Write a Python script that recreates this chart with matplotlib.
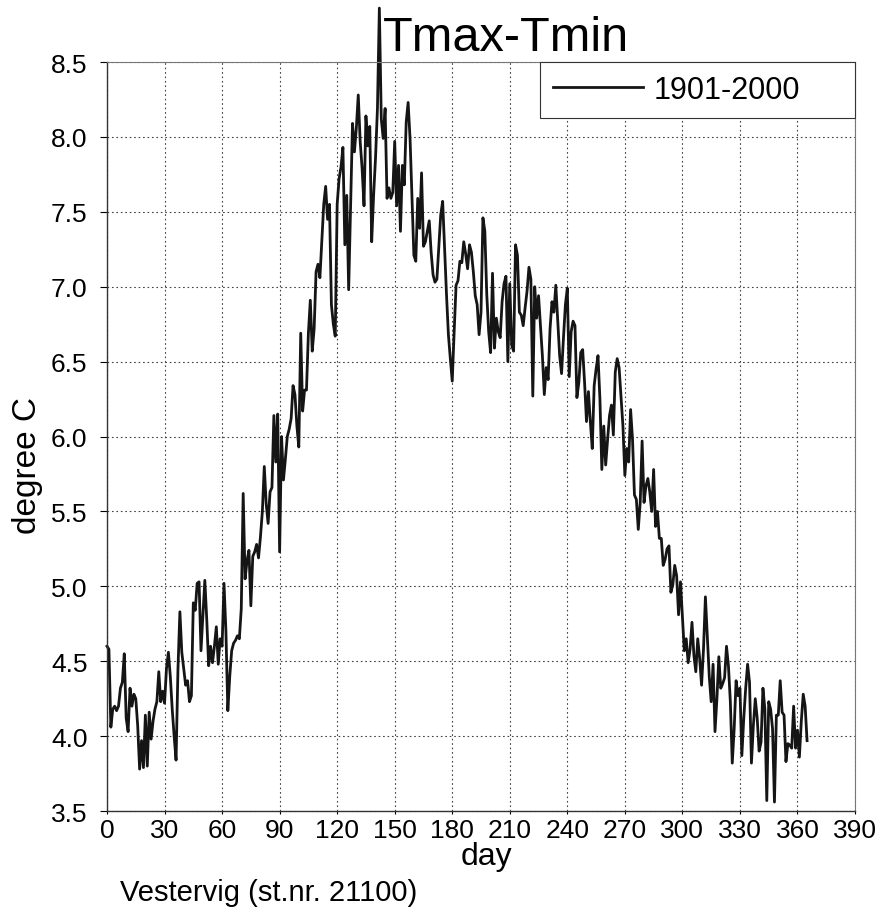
import numpy as np
import matplotlib.pyplot as plt

# daily mean of Tmax-Tmin, day 0..365
days = np.arange(366)
dtr = [
    4.60, 4.58, 4.06, 4.18, 4.20, 4.17, 4.20, 4.32, 4.36, 4.55,
    4.12, 4.03, 4.32, 4.20, 4.28, 4.25, 4.07, 3.78, 3.97, 3.79,
    4.14, 3.80, 4.16, 3.98, 4.10, 4.18, 4.23, 4.43, 4.23, 4.30,
    4.22, 4.45, 4.56, 4.40, 4.18, 4.00, 3.84, 4.45, 4.83, 4.56,
    4.45, 4.34, 4.37, 4.23, 4.27, 4.89, 4.84, 5.02, 5.03, 4.57,
    4.80, 5.04, 4.78, 4.47, 4.60, 4.49, 4.60, 4.73, 4.48, 4.65,
    4.60, 5.02, 4.70, 4.17, 4.40, 4.57, 4.62, 4.64, 4.67, 4.65,
    4.85, 5.62, 5.05, 5.17, 5.24, 4.87, 5.20, 5.23, 5.28, 5.19,
    5.33, 5.50, 5.80, 5.55, 5.42, 5.63, 5.66, 6.14, 5.83, 6.15,
    5.23, 6.00, 5.71, 5.85, 6.00, 6.05, 6.12, 6.34, 6.28, 6.07,
    5.93, 6.69, 6.17, 6.31, 6.31, 6.69, 6.91, 6.57, 6.72, 7.10,
    7.15, 7.06, 7.30, 7.55, 7.67, 7.45, 7.55, 6.88, 6.75, 6.67,
    7.55, 7.72, 7.80, 7.93, 7.28, 7.61, 6.98, 7.54, 8.09, 7.90,
    8.06, 8.28, 7.97, 7.79, 7.54, 8.14, 7.94, 8.07, 7.30, 7.61,
    7.86, 8.19, 8.86, 8.12, 7.99, 8.19, 7.59, 7.66, 7.59, 7.63,
    7.97, 7.54, 7.81, 7.37, 7.81, 7.68, 8.10, 8.23, 7.99, 7.60,
    7.21, 7.17, 7.59, 7.39, 7.76, 7.27, 7.30, 7.37, 7.44, 7.23,
    7.08, 7.03, 7.05, 7.26, 7.48, 7.57, 7.26, 6.95, 6.68, 6.52,
    6.37, 6.70, 7.01, 7.04, 7.17, 7.16, 7.30, 7.22, 7.12, 7.28,
    7.23, 7.10, 6.94, 6.88, 6.68, 6.83, 7.46, 7.37, 6.95, 6.70,
    6.56, 7.09, 6.59, 6.79, 6.70, 6.66, 6.90, 7.02, 7.07, 6.50,
    7.02, 6.61, 6.57, 7.28, 7.21, 6.83, 6.81, 6.74, 6.86, 6.97,
    7.13, 7.05, 6.27, 7.00, 6.79, 6.94, 6.74, 6.54, 6.28, 6.46,
    6.38, 6.72, 6.90, 6.83, 7.01, 6.77, 6.54, 6.42, 6.66, 6.88,
    6.99, 6.40, 6.70, 6.77, 6.74, 6.26, 6.36, 6.56, 6.58, 6.36,
    6.10, 6.30, 6.10, 5.92, 6.34, 6.45, 6.54, 6.25, 5.78, 6.07,
    5.81, 5.98, 6.14, 6.21, 6.01, 6.43, 6.52, 6.46, 6.27, 6.07,
    5.74, 5.92, 5.83, 6.18, 5.98, 5.61, 5.58, 5.38, 5.56, 5.97,
    5.56, 5.67, 5.72, 5.63, 5.50, 5.78, 5.40, 5.50, 5.32, 5.32,
    5.14, 5.18, 5.25, 5.27, 4.96, 5.01, 5.14, 5.07, 4.81, 5.03,
    4.80, 4.57, 4.65, 4.49, 4.58, 4.76, 4.54, 4.43, 4.65, 4.52,
    4.34, 4.58, 4.93, 4.67, 4.40, 4.23, 4.48, 4.03, 4.25, 4.53,
    4.32, 4.35, 4.39, 4.60, 4.47, 4.23, 3.82, 4.05, 4.37, 4.27,
    4.32, 3.87, 4.12, 4.32, 4.48, 4.36, 3.82, 4.07, 4.25, 4.12,
    3.90, 3.96, 4.32, 4.18, 3.57, 4.23, 4.18, 4.05, 3.56, 4.14,
    4.14, 4.37, 4.16, 4.14, 3.83, 3.95, 3.94, 3.92, 4.20, 3.92,
    4.04, 3.86, 4.10, 4.28, 4.20, 3.97,
]
xticks = np.arange(0, 391, 30)
yticks = np.arange(3.5, 8.51, 0.5)

plt.rcParams['font.family'] = ['Liberation Sans', 'DejaVu Sans']

fig = plt.figure(figsize=(8.8, 9.12), dpi=100)
ax = fig.add_axes([0.1216, 0.1096, 0.85, 0.8213])

ax.plot(days, dtr, color='#151515', lw=2.0, clip_on=False, label='1901-2000')

ax.set_xlim(0, 390)
ax.set_ylim(3.5, 8.5)
ax.set_xticks(xticks)
ax.set_yticks(yticks)
ax.set_yticklabels(['%.1f' % v for v in yticks])
ax.tick_params(axis='y', labelsize=19, length=5, width=0.8, pad=9)
ax.tick_params(axis='x', labelsize=19, length=2, width=0.8, pad=3)
ax.grid(True, color='#444444', linestyle=(0, (1.5, 2.5)), linewidth=0.8)

for s in ['top', 'right']:
    ax.spines[s].set_color('#777777')
    ax.spines[s].set_linewidth(0.8)
for s in ['left', 'bottom']:
    ax.spines[s].set_color('#333333')
    ax.spines[s].set_linewidth(1.0)

ax.set_xlabel('day', fontsize=23)
ax.xaxis.set_label_coords(0.507, -0.04, transform=ax.transAxes)
ax.xaxis.label.set_va('top')
ax.set_ylabel('degree C', fontsize=24)
ax.yaxis.set_label_coords(-0.106, 0.462, transform=ax.transAxes)
ax.yaxis.label.set_va('center')

# legend box spans from x=0.579 to the right edge of the axes
leg = ax.legend(loc='upper left', bbox_to_anchor=(0.579, 0, 0.421, 1.0), mode='expand',
                borderaxespad=0, fancybox=False, fontsize=22, handlelength=2.95,
                borderpad=0.42, handletextpad=0.35)
leg.get_frame().set_edgecolor('#333333')
leg.get_frame().set_linewidth(0.8)
leg.get_frame().set_alpha(1)

fig.text(0.575, 0.958, 'Tmax-Tmin', ha='center', va='center', fontsize=35)
fig.text(0.136, 0.021, 'Vestervig (st.nr. 21100)', ha='left', va='center', fontsize=21)

fig.savefig('out.png', dpi=100)
